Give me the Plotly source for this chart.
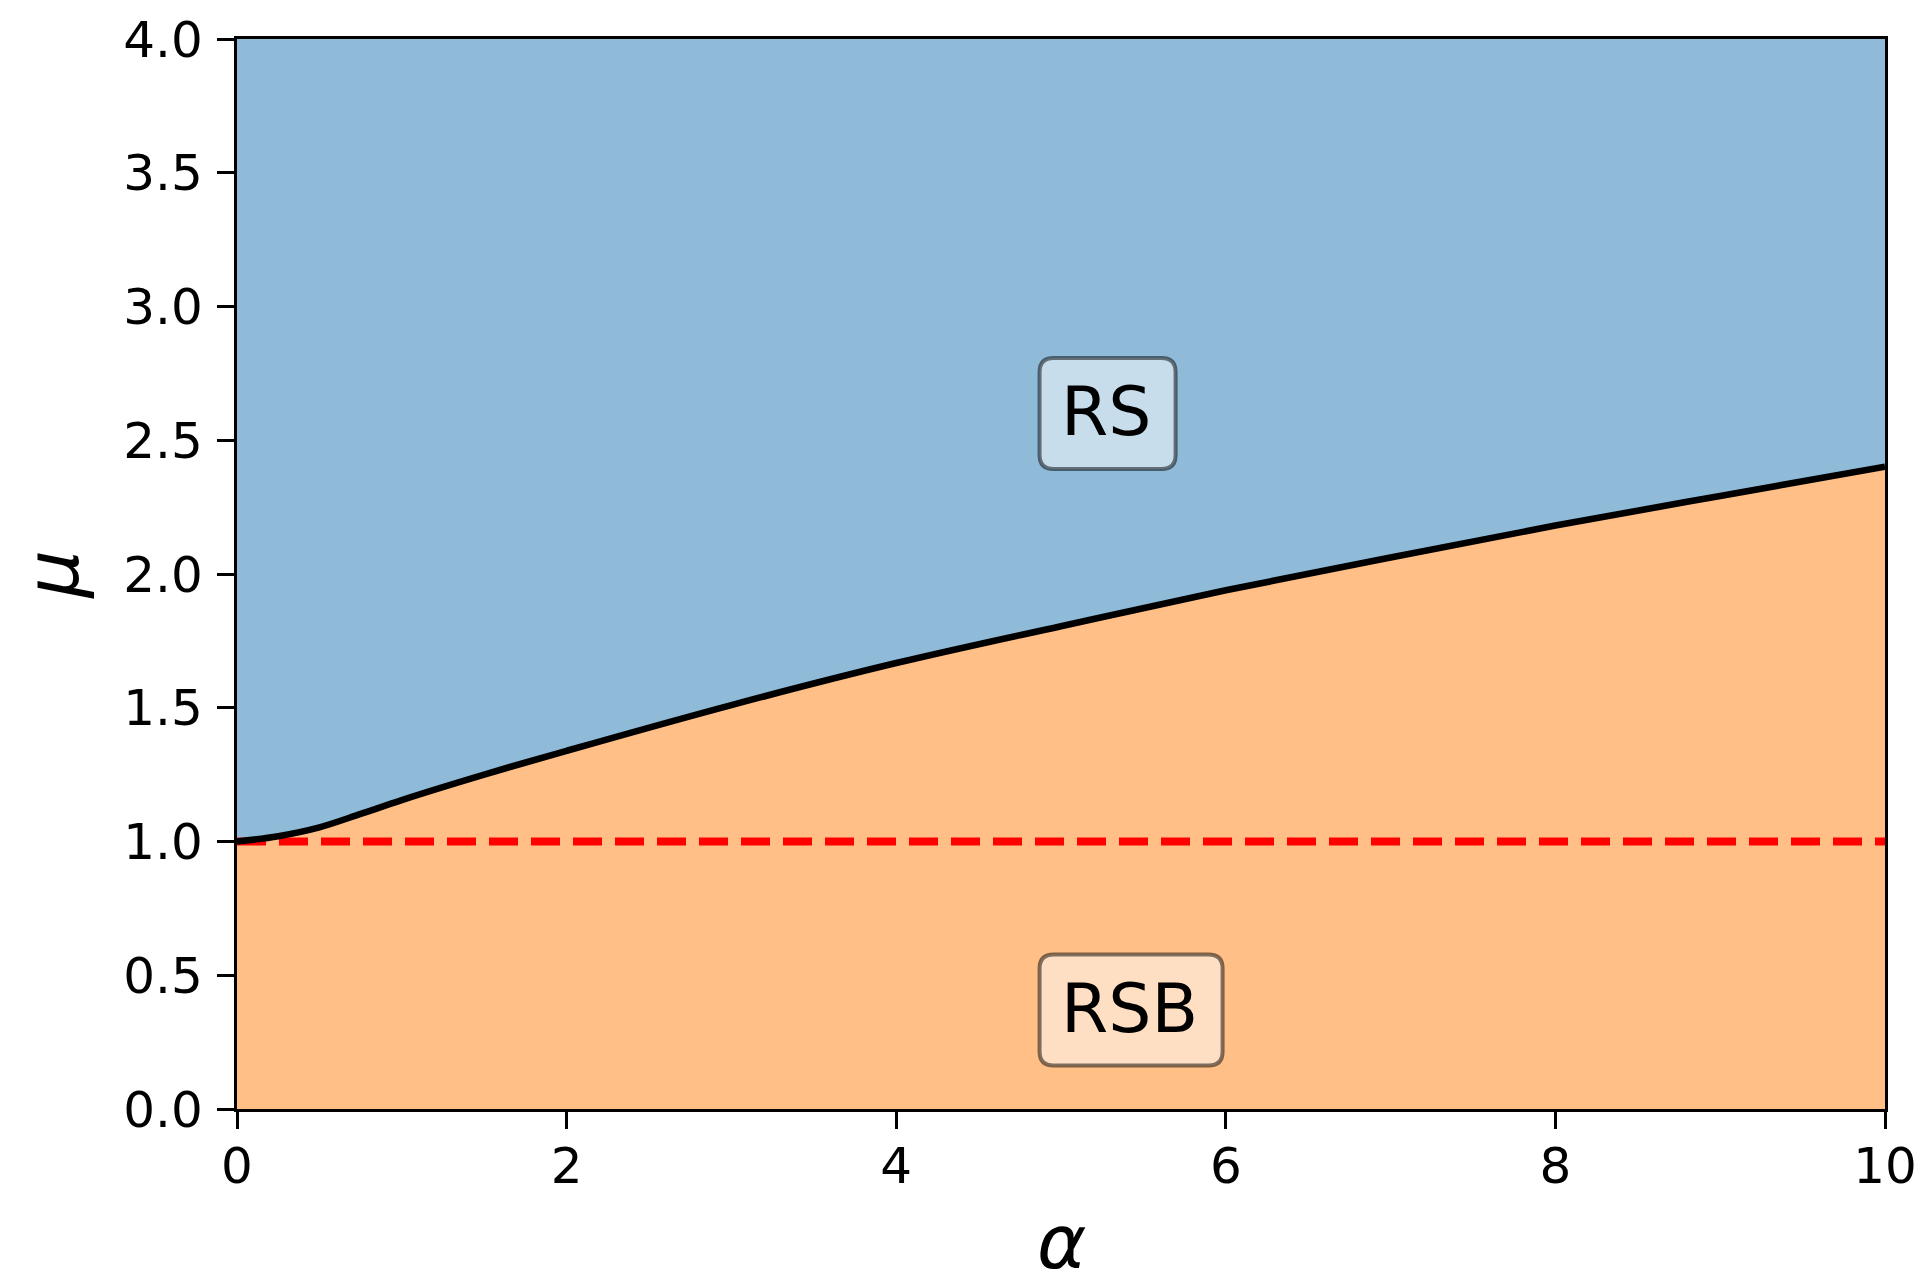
import plotly.graph_objects as go

# data
alpha = [0, 0.25, 0.5, 0.75, 1.0, 1.5, 2, 3, 4, 5, 6, 7, 8, 9, 10]
mu_c = [1.0, 1.02, 1.053, 1.103, 1.155, 1.25, 1.339, 1.51, 1.667, 1.805, 1.939, 2.062, 2.181, 2.292, 2.401]
x_range = [0, 10]
y_range = [0, 4]
mu_ref = 1.0
x_ticks = [0, 2, 4, 6, 8, 10]
y_ticks = [0.0, 0.5, 1.0, 1.5, 2.0, 2.5, 3.0, 3.5, 4.0]
labels = ["RS", "RSB"]
label_pos = [(4.87, 2.6), (4.87, 0.37)]   # (box left alpha, box centre mu)

BLUE = "#8fbbd9"
ORANGE = "#ffbf86"
FONT = "DejaVu Sans"

W, H = 1911, 1264
ML, MR, MT, MB = 229, 34, 31, 163
plot_w = W - ML - MR
plot_h = H - MT - MB
sx = plot_w / (x_range[1] - x_range[0])   # px per alpha unit
sy = plot_h / (y_range[1] - y_range[0])   # px per mu unit

fig = go.Figure()
fig.add_trace(go.Scatter(x=x_range, y=[y_range[1]] * 2, mode="lines",
                         line=dict(width=0), fill="tozeroy", fillcolor=BLUE,
                         hoverinfo="skip", showlegend=False))
fig.add_trace(go.Scatter(x=alpha, y=mu_c, mode="lines",
                         line=dict(width=0, shape="spline", smoothing=1.0),
                         fill="tozeroy", fillcolor=ORANGE,
                         hoverinfo="skip", showlegend=False))
fig.add_trace(go.Scatter(x=x_range, y=[mu_ref] * 2, mode="lines",
                         line=dict(color="#ff0000", width=8, dash="29px,13px"),
                         hoverinfo="skip", showlegend=False))
fig.add_trace(go.Scatter(x=alpha, y=mu_c, mode="lines",
                         line=dict(color="black", width=6.6, shape="spline", smoothing=1.0),
                         hoverinfo="skip", showlegend=False))

box_w_px = [136, 183]
box_h_px = 111
rad_px = 14
text_off_px = 19

for txt, (a0, c), bw in zip(labels, label_pos, box_w_px):
    a1 = a0 + bw / sx
    top = c + box_h_px / 2 / sy
    bot = c - box_h_px / 2 / sy
    rx = rad_px / sx
    ry = rad_px / sy
    path = (f"M {a0+rx},{top} L {a1-rx},{top} Q {a1},{top} {a1},{top-ry} "
            f"L {a1},{bot+ry} Q {a1},{bot} {a1-rx},{bot} L {a0+rx},{bot} "
            f"Q {a0},{bot} {a0},{bot+ry} L {a0},{top-ry} Q {a0},{top} {a0+rx},{top} Z")
    fig.add_shape(type="path", path=path, xref="x", yref="y",
                  fillcolor="rgba(255,255,255,0.5)",
                  line=dict(color="rgba(0,0,0,0.5)", width=4), layer="above")
    fig.add_annotation(x=a0 + text_off_px / sx, y=c + 2 / sy, xref="x", yref="y",
                       text=txt, showarrow=False, xanchor="left", yanchor="middle",
                       font=dict(family=FONT, size=68, color="black"))

# x-axis title as an annotation placed below the tick labels
fig.add_annotation(x=0.5, y=0, xref="paper", yref="paper", text="<i>α</i>",
                   showarrow=False, xanchor="center", yanchor="middle", yshift=-133,
                   font=dict(family=FONT, size=75, color="black"))

axis_common = dict(showgrid=False, zeroline=False, showline=True, linecolor="black",
                   linewidth=3.3, mirror=True, ticks="outside", ticklen=17,
                   tickwidth=3.3, tickcolor="black", automargin=False,
                   ticklabeloverflow="allow",
                   tickfont=dict(family=FONT, size=50, color="black"))

fig.update_xaxes(range=x_range, tickvals=x_ticks, ticktext=[str(v) for v in x_ticks],
                 ticklabelstandoff=-6,
                 **axis_common)
fig.update_yaxes(range=y_range, tickvals=y_ticks, ticktext=[f"{v:.1f}" for v in y_ticks],
                 title=dict(text="<i>μ</i>", font=dict(family=FONT, size=75, color="black"),
                            standoff=22),
                 ticklabelstandoff=4,
                 **axis_common)

fig.update_layout(template="none", width=W, height=H, plot_bgcolor="white",
                  paper_bgcolor="white",
                  margin=dict(l=ML, r=MR, t=MT, b=MB, pad=0), showlegend=False)

fig.write_html("out.html")
